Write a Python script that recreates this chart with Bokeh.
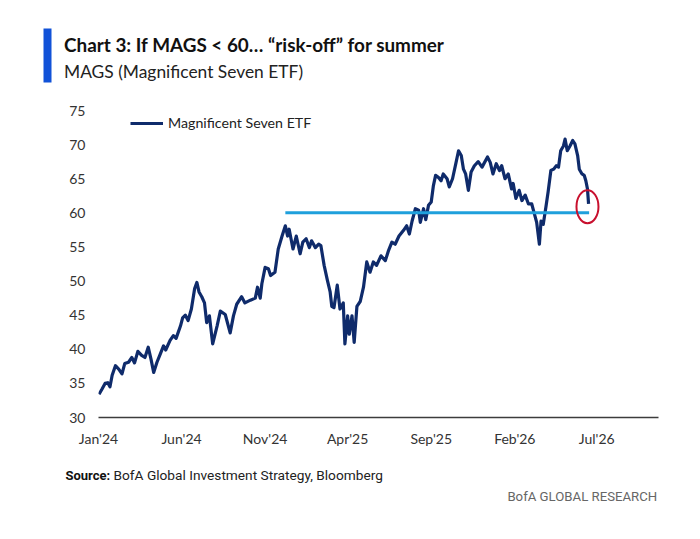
import numpy as np
import pandas as pd
from bokeh.plotting import figure
from bokeh.layouts import column
from bokeh.models import (Range1d, FixedTicker, Legend, LegendItem, ColumnDataSource)
from bokeh.core.properties import value
from bokeh.embed import file_html
from bokeh.resources import INLINE

# ---------------- data ----------------
dates = [
    "2024-01-02", "2024-01-07", "2024-01-13", "2024-01-18", "2024-01-22", "2024-01-26",
    "2024-02-01", "2024-02-07", "2024-02-13", "2024-02-18", "2024-02-25", "2024-03-02",
    "2024-03-07", "2024-03-13", "2024-03-20", "2024-03-26", "2024-04-01", "2024-04-06",
    "2024-04-11", "2024-04-17", "2024-04-23", "2024-04-29", "2024-05-03", "2024-05-11",
    "2024-05-17", "2024-05-22", "2024-05-30", "2024-06-03", "2024-06-08", "2024-06-13",
    "2024-06-19", "2024-06-25", "2024-06-29", "2024-07-03", "2024-07-08", "2024-07-13",
    "2024-07-17", "2024-07-22", "2024-07-28", "2024-08-05", "2024-08-11", "2024-08-20",
    "2024-08-29", "2024-09-04", "2024-09-10", "2024-09-19", "2024-09-25", "2024-10-05",
    "2024-10-14", "2024-10-18", "2024-10-23", "2024-10-26", "2024-11-01", "2024-11-07",
    "2024-11-11", "2024-11-19", "2024-11-25", "2024-12-02", "2024-12-08", "2024-12-12",
    "2024-12-15", "2024-12-22", "2024-12-28", "2025-01-04", "2025-01-09", "2025-01-15",
    "2025-01-21", "2025-01-25", "2025-02-01", "2025-02-07", "2025-02-11", "2025-02-17",
    "2025-02-23", "2025-02-28", "2025-03-03", "2025-03-07", "2025-03-13", "2025-03-18",
    "2025-03-24", "2025-03-27", "2025-04-01", "2025-04-04", "2025-04-09", "2025-04-13",
    "2025-04-18", "2025-04-24", "2025-04-30", "2025-05-06", "2025-05-12", "2025-05-18",
    "2025-05-24", "2025-06-01", "2025-06-09", "2025-06-15", "2025-06-21", "2025-06-27",
    "2025-07-04", "2025-07-12", "2025-07-18", "2025-07-23", "2025-07-28", "2025-08-03",
    "2025-08-09", "2025-08-12", "2025-08-18", "2025-08-22", "2025-08-27", "2025-09-01",
    "2025-09-05", "2025-09-09", "2025-09-14", "2025-09-19", "2025-09-23", "2025-09-30",
    "2025-10-04", "2025-10-10", "2025-10-16", "2025-10-21", "2025-10-26", "2025-10-30",
    "2025-11-03", "2025-11-08", "2025-11-13", "2025-11-19", "2025-11-26", "2025-12-03",
    "2025-12-13", "2025-12-18", "2025-12-23", "2025-12-29", "2026-01-04", "2026-01-08",
    "2026-01-14", "2026-01-20", "2026-01-26", "2026-01-29", "2026-02-03", "2026-02-09",
    "2026-02-14", "2026-02-20", "2026-02-26", "2026-03-04", "2026-03-08", "2026-03-13",
    "2026-03-18", "2026-03-21", "2026-03-25", "2026-03-30", "2026-04-03", "2026-04-08",
    "2026-04-13", "2026-04-18", "2026-04-22", "2026-04-26", "2026-05-01", "2026-05-04",
    "2026-05-08", "2026-05-13", "2026-05-18", "2026-05-22", "2026-05-27", "2026-05-30",
    "2026-06-04", "2026-06-08", "2026-06-11", "2026-06-14", "2026-06-16",
]
mags = [
    33.4, 34.1, 35.0, 35.1, 34.5, 36.2,
    37.6, 37.1, 36.4, 37.9, 38.1, 38.8,
    38.0, 39.7, 39.1, 38.8, 40.3, 38.6,
    36.6, 38.1, 39.3, 40.5, 39.9, 41.3,
    42.0, 41.6, 43.4, 44.6, 45.0, 44.2,
    45.9, 48.9, 49.8, 48.4, 47.7, 46.8,
    43.9, 44.9, 40.8, 43.4, 45.6, 45.1,
    42.4, 44.9, 46.6, 47.7, 46.8, 47.2,
    47.5, 49.1, 47.5, 49.6, 52.0, 51.8,
    50.8, 51.3, 54.7, 56.6, 58.1, 56.6,
    57.6, 54.7, 56.6, 54.0, 55.7, 56.2,
    54.9, 55.9, 54.9, 55.4, 55.2, 52.3,
    50.1, 48.4, 46.3, 46.1, 49.4, 45.9,
    46.8, 40.8, 44.9, 42.2, 44.9, 41.0,
    46.3, 47.0, 49.1, 52.8, 51.3, 52.8,
    52.3, 53.7, 53.0, 54.5, 55.7, 55.4,
    56.6, 57.4, 58.1, 56.9, 58.8, 60.6,
    60.4, 58.6, 60.6, 59.0, 61.1, 61.6,
    64.0, 65.5, 65.2, 64.7, 65.7, 65.0,
    63.8, 65.0, 67.2, 69.1, 68.4, 66.4,
    65.7, 63.3, 66.0, 66.9, 67.5, 66.7,
    68.2, 67.4, 65.7, 67.2, 66.2, 66.9,
    65.0, 65.7, 63.5, 64.3, 62.1, 63.3,
    61.8, 62.6, 61.3, 61.3, 60.1, 58.6,
    55.4, 58.8, 58.3, 60.9, 63.1, 66.2,
    66.4, 66.9, 66.7, 69.1, 69.8, 70.8,
    69.1, 69.8, 70.6, 70.1, 68.4, 66.4,
    65.7, 65.5, 64.7, 63.5, 61.3,
]

series_name = "Magnificent Seven ETF"
y_ticks = [30, 35, 40, 45, 50, 55, 60, 65, 70, 75]
tick_dates = ["2024-01-01", "2024-06-01", "2024-11-01", "2025-04-01",
              "2025-09-01", "2026-02-01", "2026-07-01"]
tick_labels = ["Jan'24", "Jun'24", "Nov'24", "Apr'25", "Sep'25", "Feb'26", "Jul'26"]
x_start, x_end = "2024-01-01", "2026-10-22"
y_start, y_end = 30, 75

threshold = 60
threshold_dates = ["2024-12-08", "2026-06-17"]
circle_date = "2026-06-14"
circle_level = 60.9

title = "Chart 3: If MAGS < 60\u2026 \u201crisk-off\u201d for summer"
subtitle = "MAGS (Magnificent Seven ETF)"
source_bold = "Source:"
source_rest = "BofA Global Investment Strategy, Bloomberg"
brand = "BofA GLOBAL RESEARCH"

# ---------------- styles ----------------
NAVY = "#0f2b6b"
SKY = "#1fa0dc"
RED = "#c8102e"
BAR_BLUE = "#1152d8"
FONT = "Lato"
FOOT_FONT = "Roboto"

W = 692
HEADER_H = 100          # page rows 0..100
MAIN_H = 357            # page rows 100..457
FOOTER_H = 74           # page rows 457..531
F_LEFT, F_RIGHT = 98, 658
F_TOP, F_BOTTOM = 110, 417   # frame rows on the page


def ms(d):
    return float(pd.Timestamp(d).value // 10**6)


def blank_fig(h):
    """A figure whose plotting frame is the whole canvas, in pixel units (y down)."""
    f = figure(width=W, height=h, x_range=Range1d(0, W), y_range=Range1d(h, 0),
               x_axis_location=None, y_axis_location=None, title=None,
               min_border=0, output_backend="svg", toolbar_location=None,
               frame_align=False)
    f.outline_line_color = None
    f.xgrid.visible = False
    f.ygrid.visible = False
    f.background_fill_color = "white"
    f.border_fill_color = "white"
    return f


# ---------------- header ----------------
head = blank_fig(HEADER_H)
head.quad(left=[43], right=[51], top=[28], bottom=[82], fill_color=BAR_BLUE,
          line_color=None)
head.text(x=[63.5], y=[43.5], text=[title], text_font=value(FONT),
          text_font_style="bold", text_font_size=value("18.9px"),
          text_color="#111111", text_baseline="alphabetic")
head.text(x=[63.5], y=[70.5], text=[subtitle], text_font=value(FONT),
          text_font_size=value("17.4px"), text_color="#222222",
          text_baseline="alphabetic")

# ---------------- main chart ----------------
src = ColumnDataSource(dict(date=pd.to_datetime(dates), mags=mags))

p = figure(width=W, height=MAIN_H, x_axis_type="datetime",
           x_range=Range1d(pd.Timestamp(x_start), pd.Timestamp(x_end)),
           y_range=Range1d(y_start, y_end), title=None,
           output_backend="svg", toolbar_location=None, frame_align=False,
           min_border_left=F_LEFT, min_border_right=W - F_RIGHT,
           min_border_top=F_TOP - HEADER_H,
           min_border_bottom=HEADER_H + MAIN_H - F_BOTTOM)
p.outline_line_color = None
p.xgrid.visible = False
p.ygrid.visible = False
p.background_fill_color = "white"
p.border_fill_color = "white"

xa = p.xaxis[0]
xa.ticker = FixedTicker(ticks=[ms(d) for d in tick_dates])
xa.major_label_overrides = {ms(d): lab for d, lab in zip(tick_dates, tick_labels)}
xa.axis_line_color = "#3c3c3c"
xa.axis_line_width = 1.5
xa.major_tick_line_color = None
xa.minor_tick_line_color = None
xa.major_tick_out = 0
xa.major_label_standoff = 12
xa.major_label_text_font = FONT
xa.major_label_text_font_size = "14px"
xa.major_label_text_color = "#333333"

ya = p.yaxis[0]
ya.ticker = FixedTicker(ticks=y_ticks)
ya.axis_line_color = None
ya.major_tick_line_color = None
ya.minor_tick_line_color = None
ya.major_tick_out = 0
ya.major_label_standoff = 13
ya.major_label_text_font = FONT
ya.major_label_text_font_size = "14px"
ya.major_label_text_color = "#333333"

r = p.line(x="date", y="mags", source=src, line_color=NAVY, line_width=3.2,
           line_join="round")
p.line(x=pd.to_datetime(threshold_dates), y=[threshold, threshold],
       line_color=SKY, line_width=3)
p.ellipse(x=[pd.Timestamp(circle_date)], y=[circle_level], width=22, height=33,
          width_units="screen", height_units="screen",
          fill_alpha=0, line_color=RED, line_width=2)

legend = Legend(items=[LegendItem(label=series_name, renderers=[r])],
                location=(130 - F_LEFT, F_BOTTOM - 131),
                border_line_color=None, background_fill_alpha=0,
                padding=0, margin=0, spacing=0,
                glyph_width=33, glyph_height=16, label_height=16,
                label_standoff=5, label_text_font=FONT,
                label_text_font_size="14.2px", label_text_color="#222222")
p.add_layout(legend)

# ---------------- footer ----------------
foot = blank_fig(FOOTER_H)
top0 = HEADER_H + MAIN_H
foot.text(x=[65], y=[474.5 - top0], text=[source_bold], text_font=value(FOOT_FONT),
          text_font_style="bold", text_font_size=value("13px"),
          text_color="#111111", text_baseline="alphabetic")
foot.text(x=[113], y=[474.5 - top0], text=[source_rest], text_font=value(FOOT_FONT),
          text_font_size=value("13.7px"), text_color="#222222",
          text_baseline="alphabetic")
foot.text(x=[656.7], y=[496 - top0], text=[brand], text_font=value(FOOT_FONT),
          text_font_size=value("13.2px"), text_color="#666666",
          text_align="right", text_baseline="alphabetic")

layout = column(head, p, foot, spacing=0)
open("out.html", "w").write(file_html(layout, INLINE))
